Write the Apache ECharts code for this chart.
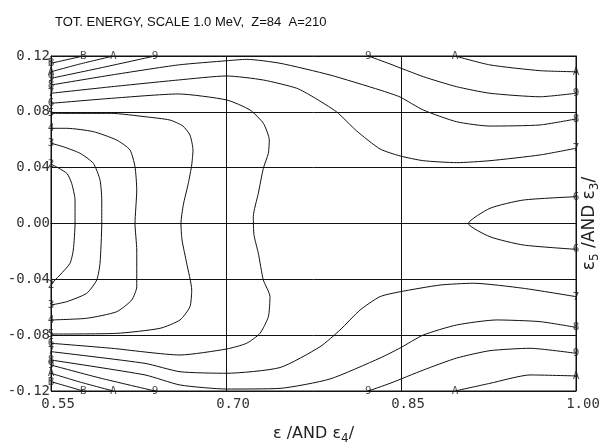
<!DOCTYPE html>
<html>
<head>
<meta charset="utf-8">
<script src="https://cdn.jsdelivr.net/npm/echarts@6/dist/echarts.min.js"></script>
<style>
  html, body { margin: 0; padding: 0; background: #fff; }
  #chart { width: 603px; height: 444px; }
</style>
</head>
<body>
<div id="chart"></div>
<script>
// axis ticks
const xTicks = [0.55, 0.70, 0.85, 1.00];
const yTicks = [-0.12, -0.08, -0.04, 0.00, 0.04, 0.08, 0.12];

// contour lines, [eps, eps5] pairs
const level2 = [[0.55,0.0426],[0.5635,0.036],[0.5677,0.0288],[0.5706,0.0168],[0.5706,0],[0.5691,-0.019],[0.5663,-0.0285],[0.5577,-0.0369],[0.5534,-0.0405],[0.55,-0.0441]];
const level3 = [[0.55,0.0575],[0.5605,0.055],[0.5749,0.0503],[0.5863,0.0431],[0.592,0.0312],[0.5935,0.0168],[0.5935,0],[0.592,-0.0285],[0.5892,-0.0405],[0.5806,-0.05],[0.5635,-0.056],[0.55,-0.0584]];
const level4 = [[0.55,0.0682],[0.5635,0.0682],[0.5863,0.0658],[0.6063,0.0598],[0.6177,0.0527],[0.622,0.0407],[0.6235,0.024],[0.622,0],[0.6235,-0.019],[0.6235,-0.0453],[0.6192,-0.0548],[0.6063,-0.0632],[0.5806,-0.0679],[0.55,-0.0691]];
const level5 = [[0.55,0.0789],[0.602,0.0789],[0.6306,0.0765],[0.652,0.0741],[0.6631,0.0698],[0.6691,0.0634],[0.6717,0.0527],[0.6706,0.0419],[0.6677,0.0288],[0.6634,0.0133],[0.6614,0],[0.6623,-0.0118],[0.6663,-0.0285],[0.6706,-0.0476],[0.6691,-0.0596],[0.6606,-0.0691],[0.6434,-0.0751],[0.6063,-0.0787],[0.55,-0.0792]];
const level6 = [[0.55,0.0861],[0.602,0.0897],[0.6591,0.0928],[0.7006,0.0885],[0.7206,0.0813],[0.732,0.0718],[0.7371,0.0598],[0.7363,0.0503],[0.732,0.0395],[0.7277,0.0216],[0.7234,0.0049],[0.724,-0.0082],[0.7277,-0.0213],[0.732,-0.0405],[0.7377,-0.0524],[0.7363,-0.0668],[0.7291,-0.0787],[0.7177,-0.0858],[0.7006,-0.0899],[0.6606,-0.0942],[0.602,-0.0894],[0.55,-0.0858]];
const level7Top = [[0.55,0.0933],[0.602,0.098],[0.6591,0.1028],[0.7006,0.1057],[0.732,0.1028],[0.7606,0.0969],[0.7748,0.0906],[0.7949,0.0799],[0.812,0.0663],[0.832,0.0534],[0.8492,0.0484],[0.8691,0.045],[0.8977,0.0436],[0.9263,0.045],[0.9691,0.0491],[1.0,0.0539]];
const level7Bot = [[0.55,-0.0918],[0.6306,-0.1002],[0.6606,-0.1062],[0.7006,-0.1073],[0.7463,-0.1032],[0.7806,-0.0883],[0.7977,-0.0763],[0.8149,-0.062],[0.832,-0.0524],[0.8492,-0.0489],[0.8834,-0.0441],[0.912,-0.0428],[0.9548,-0.0464],[1.0,-0.0524]];
const level8Top = [[0.55,0.0992],[0.602,0.1064],[0.6591,0.1136],[0.7006,0.1166],[0.7177,0.1176],[0.7463,0.1148],[0.7891,0.1064],[0.832,0.0956],[0.8492,0.0906],[0.8691,0.0813],[0.8977,0.0729],[0.9263,0.0698],[0.9691,0.0706],[1.0,0.0749]];
const level8Bot = [[0.55,-0.0978],[0.6306,-0.1085],[0.6606,-0.1157],[0.7006,-0.1186],[0.7463,-0.1181],[0.7891,-0.1114],[0.832,-0.0964],[0.8492,-0.0892],[0.8691,-0.0799],[0.8977,-0.0727],[0.932,-0.0691],[0.9691,-0.0703],[1.0,-0.0744]];
const level9TopL = [[0.55,0.104],[0.592,0.1114],[0.6391,0.12]];
const level9BotL = [[0.55,-0.1014],[0.592,-0.1107],[0.6391,-0.12]];
const levelATopL = [[0.55,0.1087],[0.5749,0.1143],[0.6034,0.12]];
const levelABotL = [[0.55,-0.1073],[0.5749,-0.1136],[0.6034,-0.12]];
const levelBTopL = [[0.55,0.1148],[0.5777,0.12]];
const levelBBotL = [[0.55,-0.1133],[0.5777,-0.12]];
const level9TopR = [[0.822,0.12],[0.8406,0.1143],[0.8691,0.1052],[0.8977,0.098],[0.9263,0.0933],[0.9691,0.0908],[1.0,0.0933]];
const level9BotR = [[0.822,-0.12],[0.8406,-0.1145],[0.8691,-0.105],[0.8977,-0.0964],[0.9263,-0.0911],[0.9606,-0.0894],[1.0,-0.093]];
const levelATopR = [[0.8963,0.12],[0.9263,0.1136],[0.9691,0.1095],[1.0,0.1087]];
const levelABotR = [[0.8963,-0.12],[0.9263,-0.1145],[0.9606,-0.1085],[1.0,-0.1092]];
const level6Right = [[1.0,0.0192],[0.9548,0.0168],[0.9263,0.0109],[0.9077,0],[0.9263,-0.0095],[0.9548,-0.0154],[1.0,-0.0185]];

// contour labels [x, y, text]
const contourLabels = [
  [0.55,0.0426,'2'],[0.55,-0.0441,'2'],[0.55,0.0575,'3'],[0.55,-0.0584,'3'],
  [0.55,0.0682,'4'],[0.55,-0.0691,'4'],[0.55,0.0789,'5'],[0.55,-0.0792,'5'],
  [0.55,0.0861,'6'],[0.55,-0.0858,'6'],[0.55,0.0933,'7'],[0.55,-0.0918,'7'],
  [0.55,0.0992,'8'],[0.55,-0.0978,'8'],[0.55,0.104,'9'],[0.55,-0.1014,'9'],
  [0.55,0.1087,'A'],[0.55,-0.1073,'A'],[0.55,0.1148,'B'],[0.55,-0.1133,'B'],
  [0.5777,0.12,'B'],[0.6034,0.12,'A'],[0.6391,0.12,'9'],[0.822,0.12,'9'],[0.8963,0.12,'A'],
  [0.5777,-0.12,'B'],[0.6034,-0.12,'A'],[0.6391,-0.12,'9'],[0.822,-0.12,'9'],[0.8963,-0.12,'A'],
  [1.0,0.1087,'A'],[1.0,0.0933,'9'],[1.0,0.0749,'8'],[1.0,0.0539,'7'],[1.0,0.0192,'6'],
  [1.0,-0.0185,'6'],[1.0,-0.0524,'7'],[1.0,-0.0744,'8'],[1.0,-0.093,'9'],[1.0,-0.1092,'A']
];

const contours = [level2, level3, level4, level5, level6, level7Top, level7Bot, level8Top, level8Bot,
  level9TopL, level9BotL, levelATopL, levelABotL, levelBTopL, levelBBotL,
  level9TopR, level9BotR, levelATopR, levelABotR, level6Right];

const chart = echarts.init(document.getElementById('chart'));

const series = contours.map(d => ({
  type: 'line',
  data: d,
  showSymbol: false,
  smooth: 0.2,
  silent: true,
  lineStyle: { color: '#111', width: 1 }
}));
series.push({
  type: 'scatter',
  data: contourLabels,
  symbolSize: 0,
  clip: false,
  silent: true,
  label: {
    show: true,
    position: 'inside',
    formatter: p => p.value[2],
    fontFamily: 'DejaVu Sans Mono',
    fontSize: 11,
    color: '#222'
  }
});

const axisFont = { fontFamily: 'DejaVu Sans Mono', fontSize: 14, color: '#333' };

chart.setOption({
  animation: false,
  backgroundColor: '#fff',
  title: {
    text: 'TOT. ENERGY, SCALE 1.0 MeV,  Z=84  A=210',
    left: 50,
    top: 11,
    textStyle: { fontFamily: 'Liberation Sans', fontSize: 13, fontWeight: 'normal', color: '#111' }
  },
  grid: { left: 51, right: 27, top: 56, bottom: 53, show: true, borderColor: '#111', borderWidth: 1, outerBoundsMode: 'none' },
  xAxis: {
    type: 'value',
    min: xTicks[0],
    max: xTicks[xTicks.length - 1],
    interval: 0.15,
    axisLine: { lineStyle: { color: '#111' } },
    axisTick: { show: false },
    splitLine: { show: true, lineStyle: { color: '#111', width: 1 } },
    axisLabel: Object.assign({ margin: 6, padding: [0, 0, 0, 14], formatter: v => v.toFixed(2) }, axisFont),
    name: 'ε /AND ε{sub|4}/',
    nameLocation: 'middle',
    nameGap: 32,
    nameTextStyle: {
      fontFamily: 'DejaVu Sans', fontSize: 16, color: '#222', lineHeight: 22,
      rich: { sub: { fontFamily: 'DejaVu Sans', fontSize: 12, color: '#222', verticalAlign: 'bottom', lineHeight: 22, padding: [8, 0, 0, 0] } }
    }
  },
  yAxis: [{
    type: 'value',
    min: yTicks[0],
    max: yTicks[yTicks.length - 1],
    interval: 0.04,
    axisLine: { show: true, lineStyle: { color: '#111' } },
    axisTick: { show: false },
    splitLine: { show: true, lineStyle: { color: '#111', width: 1 } },
    axisLabel: Object.assign({ margin: 1, formatter: v => v.toFixed(2) }, axisFont)
  }, {
    type: 'value',
    position: 'right',
    min: yTicks[0],
    max: yTicks[yTicks.length - 1],
    interval: 0.04,
    axisLine: { show: true, lineStyle: { color: '#111' } },
    axisTick: { show: false },
    axisLabel: { show: false },
    splitLine: { show: false },
    name: 'ε{sub|5} /AND ε{sub|3}/',
    nameLocation: 'middle',
    nameRotate: 90,
    nameGap: 3,
    nameTextStyle: {
      fontFamily: 'DejaVu Sans', fontSize: 17, color: '#222', lineHeight: 22,
      rich: { sub: { fontFamily: 'DejaVu Sans', fontSize: 12, color: '#222', verticalAlign: 'bottom', lineHeight: 22, padding: [8, 0, 0, 0] } }
    }
  }],
  series: series
});
</script>
</body>
</html>
